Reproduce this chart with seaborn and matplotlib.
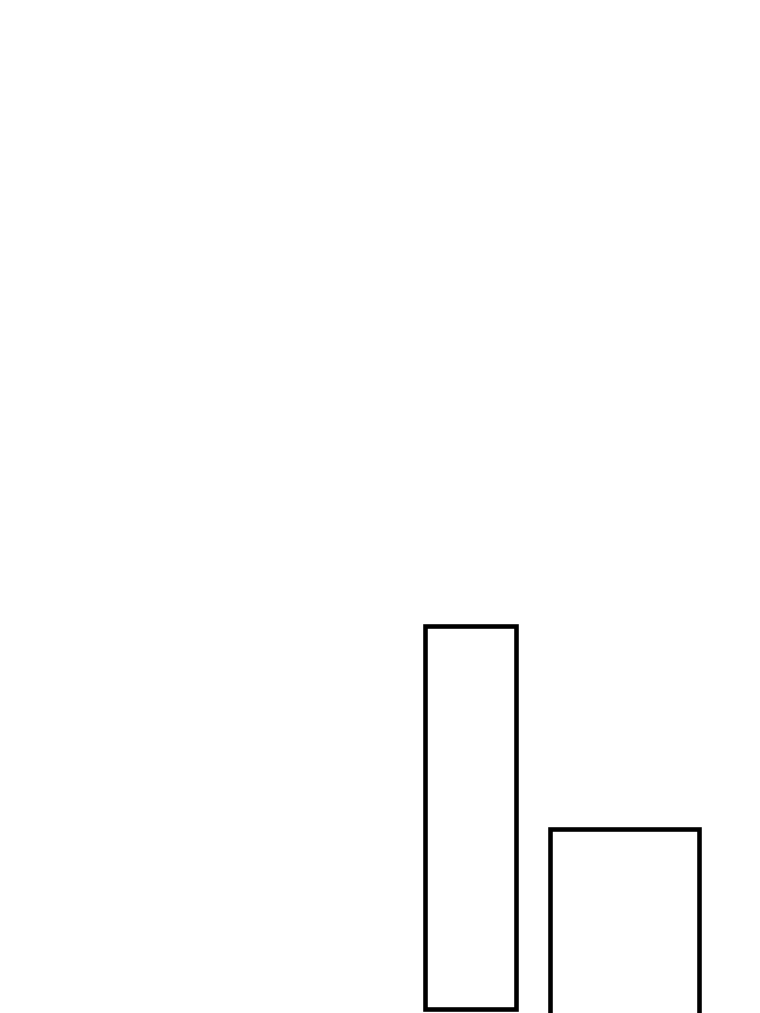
import numpy as np
import seaborn as sns
import matplotlib
matplotlib.use("Agg")
import matplotlib.pyplot as plt

# bar data (units: pixels measured from the bottom of the picture)
bar_centers = [470, 624]
bar_widths = [91, 149]
bar_bottoms = [4, -20]
bar_tops = [387.5, 184.5]

def draw_bars(ax):
    for x, w, b, t in zip(bar_centers, bar_widths, bar_bottoms, bar_tops):
        sns.barplot(x=[x], y=[t - b], native_scale=True, width=w,
                    bottom=b, errorbar=None, facecolor="white",
                    edgecolor="black", linewidth=3.3, ax=ax)

def main():
    sns.set_style("white")
    fig = plt.figure(figsize=(7.6, 10.13), dpi=100)
    ax = fig.add_axes([0, 0, 1, 1])
    draw_bars(ax)
    ax.set_xlim(0, 760)
    ax.set_ylim(0, 1013)
    ax.axis("off")
    fig.savefig("out.png", dpi=100, facecolor="white")

if __name__ == "__main__":
    main()
